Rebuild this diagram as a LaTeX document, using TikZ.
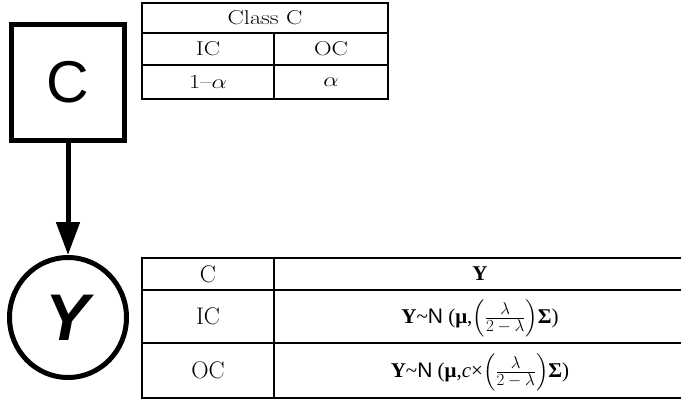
\RequirePackage{fix-cm}
\documentclass[tikz,border=0pt]{standalone}
\usepackage{amsmath}
\usepackage{fontspec}
\newfontfamily\sansfont{Liberation Sans}
\newfontfamily\seriffont{Liberation Serif}
\usetikzlibrary{arrows.meta,shapes.geometric}
\newcommand{\lamfrac}{\Big(\frac{\mbox{\fontsize{17}{17}\selectfont$\lambda$}}{\mbox{\fontsize{17}{17}\selectfont$2-\lambda$}}\Big)}
\newcommand{\widetext}[1]{\scalebox{1.22}[1]{#1}}
\tikzset{
  varbox/.style={draw,line width=5pt,minimum width=113pt,minimum height=116pt,inner sep=0pt,
    font=\sansfont\fontsize{59}{60}\selectfont},
  varcirc/.style={draw,ellipse,line width=5pt,minimum width=117pt,minimum height=120pt,inner sep=0pt,
    font=\sansfont\fontsize{66}{66}\selectfont\bfseries\itshape},
  link/.style={line width=5pt,-{Triangle[width=23pt,length=33pt]}},
  grid/.style={line width=2pt},
  topcell/.style={font=\fontsize{20}{22}\selectfont,inner sep=0pt},
  botcell/.style={font=\fontsize{24}{24}\selectfont,inner sep=0pt},
  formula/.style={font=\seriffont\fontsize{21}{24}\selectfont,inner sep=0pt}
}
\begin{document}
\begin{tikzpicture}[x=1pt,y=-1pt]
    \useasboundingbox (0,0) rectangle (681,400);
    \node[varbox] (C) at (68,82.5) {C};
    \node[varcirc] (Y) at (68,317.5) {Y};
    \draw[link] (C) -- (Y);
    \draw[grid] (142,3) rectangle (388,99);
    \draw[grid] (142,33) -- (388,33);
    \draw[grid] (142,65) -- (388,65);
    \draw[grid] (274,33) -- (274,99);
    \node[topcell] (tclass) at (265,18) {\widetext{Class C}};
    \node[topcell] (tic) at (208,49) {\widetext{IC}};
    \node[topcell] (toc) at (331,49) {\widetext{OC}};
    \node[topcell] (tpic) at (208,82) {\widetext{1--$\alpha$}};
    \node[topcell] (tpoc) at (331,82) {\widetext{$\alpha$}};
    \draw[grid] (142,258) rectangle (683,398);
    \draw[grid] (142,290) -- (683,290);
    \draw[grid] (142,343) -- (683,343);
    \draw[grid] (274,258) -- (274,398);
    \node[botcell] (hc) at (208,274) {C};
    \node[formula] (hy) at (480,274) {\textbf{Y}};
    \node[botcell] (ric) at (208,316.5) {IC};
    \node[formula] (yic) at (480,318) {\textbf{Y}\textasciitilde{\sansfont N} (\textbf{μ},$\lamfrac$\textbf{Σ})};
    \node[botcell] (roc) at (208,370.5) {OC};
    \node[formula] (yoc) at (480,372) {\textbf{Y}\textasciitilde{\sansfont N} (\textbf{μ},\textit{c}×$\lamfrac$\textbf{Σ})};
\end{tikzpicture}
\end{document}
